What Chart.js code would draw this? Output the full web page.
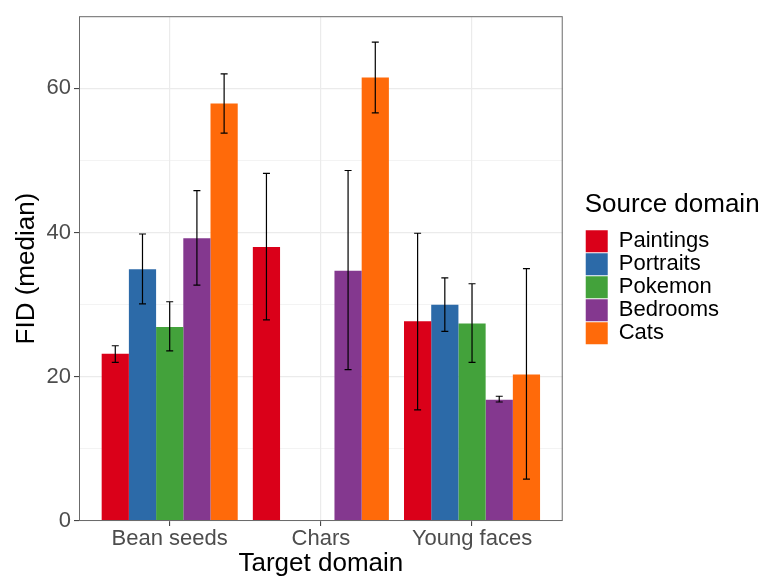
<!DOCTYPE html>
<html>
<head>
<meta charset="utf-8">
<script src="https://cdn.jsdelivr.net/npm/chart.js@4.4.1/dist/chart.umd.min.js"></script>
<style>
  html, body { margin: 0; padding: 0; background: #fff; }
  canvas { display: block; }
</style>
</head>
<body>
<canvas id="fidChart" width="765" height="577"></canvas>
<script>
// target domains (x categories) and source domains (series)
const categories = ['Bean seeds', 'Chars', 'Young faces'];
const sources = ['Paintings', 'Portraits', 'Pokemon', 'Bedrooms', 'Cats'];
const colors = ['#DA0019', '#2C6AA8', '#43A23B', '#84388F', '#FF6A0A'];

// median FID per target domain, with error bar bounds
const paintingsFid = [23.2, 38.0, 27.7];
const paintingsLow = [22.0, 27.9, 15.4];
const paintingsHigh = [24.3, 48.2, 39.9];

const portraitsFid = [34.9, null, 30.0];
const portraitsLow = [30.1, null, 26.3];
const portraitsHigh = [39.8, null, 33.7];

const pokemonFid = [26.9, null, 27.4];
const pokemonLow = [23.6, null, 22.0];
const pokemonHigh = [30.4, null, 32.9];

const bedroomsFid = [39.2, 34.7, 16.8];
const bedroomsLow = [32.7, 21.0, 16.5];
const bedroomsHigh = [45.8, 48.6, 17.3];

const catsFid = [57.9, 61.5, 20.3];
const catsLow = [53.8, 56.6, 5.8];
const catsHigh = [62.0, 66.4, 35.0];

const yTicks = [0, 20, 40, 60];

const fidSeries = [paintingsFid, portraitsFid, pokemonFid, bedroomsFid, catsFid];
const lowSeries = [paintingsLow, portraitsLow, pokemonLow, bedroomsLow, catsLow];
const highSeries = [paintingsHigh, portraitsHigh, pokemonHigh, bedroomsHigh, catsHigh];

const FONT = "'Liberation Sans', Arial, Helvetica, sans-serif";

// draws the error bars over each bar
const errorBars = {
    id: 'errorBars',
    afterDatasetsDraw(chart) {
        const ctx = chart.ctx;
        const yScale = chart.scales.y;
        ctx.save();
        ctx.strokeStyle = '#000';
        ctx.lineWidth = 1.2;
        chart.data.datasets.forEach((ds, i) => {
            const meta = chart.getDatasetMeta(i);
            meta.data.forEach((bar, j) => {
                const lo = ds.errLow[j], hi = ds.errHigh[j];
                if (lo == null || hi == null) return;
                const x = bar.x;
                const y1 = yScale.getPixelForValue(lo);
                const y2 = yScale.getPixelForValue(hi);
                ctx.beginPath();
                ctx.moveTo(x, y1); ctx.lineTo(x, y2);
                ctx.moveTo(x - 3.5, y1); ctx.lineTo(x + 3.5, y1);
                ctx.moveTo(x - 3.5, y2); ctx.lineTo(x + 3.5, y2);
                ctx.stroke();
            });
        });
        // panel border
        const a = chart.chartArea;
        ctx.strokeStyle = '#6b6b6b';
        ctx.lineWidth = 1;
        ctx.strokeRect(a.left + 0.5, a.top + 0.5, a.right - a.left - 1, a.bottom - a.top - 1);
        ctx.restore();
    }
};

// push the legend a bit away from the panel and give the title room
const legendShift = {
    id: 'legendShift',
    afterLayout(chart) {
        chart.legend.left += 22;
        chart.legend.right = chart.width;
        chart.legend.width = chart.legend.right - chart.legend.left;
    }
};

const datasets = sources.map((name, i) => ({
    label: name,
    data: categories.map((c, j) => ({ x: j + 1, y: fidSeries[i][j] })),
    errLow: lowSeries[i],
    errHigh: highSeries[i],
    backgroundColor: colors[i],
    borderWidth: 0,
    categoryPercentage: 0.9,
    barPercentage: 1.0
}));

new Chart(document.getElementById('fidChart').getContext('2d'), {
    type: 'bar',
    data: { datasets: datasets },
    options: {
        responsive: false,
        animation: false,
        layout: { padding: { top: 15, right: 58, bottom: 0, left: 0 } },
        plugins: {
            tooltip: { enabled: false },
            legend: {
                position: 'right',
                fullSize: false,
                align: 'center',
                title: {
                    display: true,
                    text: 'Source domain',
                    position: 'start',
                    color: '#000',
                    font: { family: FONT, size: 26 },
                    padding: { top: 0, bottom: 6 }
                },
                labels: {
                    boxWidth: 22,
                    boxHeight: 22,
                    padding: 1,
                    color: '#000',
                    font: { family: FONT, size: 22 }
                }
            }
        },
        scales: {
            x: {
                type: 'linear',
                min: 0.4,
                max: 3.6,
                offset: false,
                afterBuildTicks: scale => {
                    scale.ticks = categories.map((c, i) => ({ value: i + 1 }));
                },
                afterFit: scale => { scale.height = 56; },
                border: { display: false },
                grid: { offset: false, color: '#EBEBEB', lineWidth: 1.2, tickColor: '#333', tickLength: 5, tickWidth: 1 },
                ticks: {
                    autoSkip: false,
                    maxRotation: 0,
                    padding: 0,
                    color: '#4D4D4D',
                    font: { family: FONT, size: 22 },
                    callback: v => categories[v - 1] ?? ''
                },
                title: {
                    display: true,
                    text: 'Target domain',
                    color: '#000',
                    font: { family: FONT, size: 26, lineHeight: 1 },
                    padding: { top: 0, bottom: 0 }
                }
            },
            y: {
                min: 0,
                max: 70,
                afterBuildTicks: scale => {
                    scale.ticks = [0, 10, 20, 30, 40, 50, 60, 70].map(v => ({ value: v }));
                },
                afterFit: scale => { scale.width = 79; },
                border: { display: false },
                grid: {
                    color: '#EBEBEB',
                    lineWidth: c => (c.tick && yTicks.includes(c.tick.value)) ? 1.2 : 0.6,
                    tickColor: c => (c.tick && yTicks.includes(c.tick.value)) ? '#333' : 'rgba(0,0,0,0)',
                    tickLength: 5,
                    tickWidth: 1
                },
                ticks: {
                    padding: 3,
                    color: '#4D4D4D',
                    font: { family: FONT, size: 22 },
                    callback: v => yTicks.includes(v) ? String(v) : ''
                },
                title: {
                    display: true,
                    text: 'FID (median)',
                    color: '#000',
                    font: { family: FONT, size: 26, lineHeight: 1 },
                    padding: { top: 14, bottom: 0 }
                }
            }
        }
    },
    plugins: [errorBars, legendShift]
});
</script>
</body>
</html>
